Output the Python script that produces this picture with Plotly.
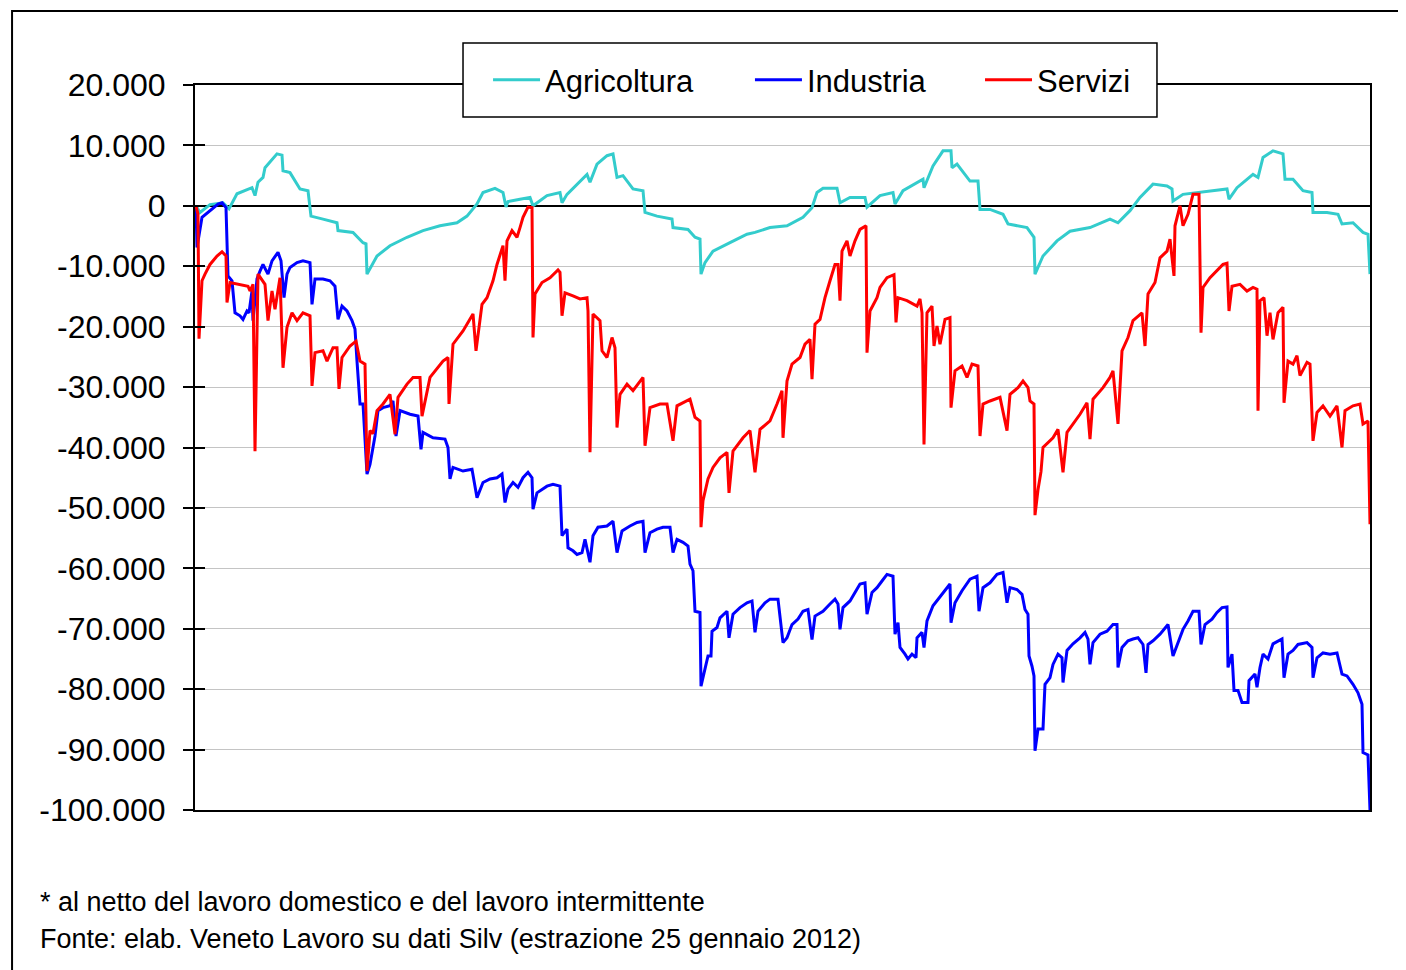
"""
Saldo cumulato delle posizioni di lavoro dipendente per settore (Veneto).
"""
import plotly.graph_objects as go

# giorni dall'inizio del periodo e saldo cumulato per settore
agr_giorni = [1, 5, 15, 28, 34, 42, 57, 60, 63, 68, 70, 82, 87, 88, 95, 105, 113, 116, 128, 142,
              143, 158, 168, 171, 172, 177, 182, 195, 212, 228, 245, 262, 272, 282, 288, 300, 308, 311, 313, 325,
              335, 338, 345, 352, 365, 367, 372, 382, 392, 395, 402, 412, 418, 422, 428, 438, 448, 450, 462, 477,
              478, 493, 500, 505, 506, 510, 518, 535, 552, 560, 575, 592, 608, 617, 622, 628, 642, 645, 655, 670,
              672, 685, 698, 700, 708, 728, 729, 738, 748, 756, 757, 762, 775, 783, 785, 795, 808, 813, 832, 839,
              840, 848, 862, 875, 895, 915, 923, 935, 945, 958, 972, 977, 978, 988, 1005, 1018, 1032, 1034, 1042, 1058,
              1063, 1068, 1078, 1088, 1090, 1098, 1108, 1117, 1118, 1132, 1143, 1147, 1158, 1168, 1173, 1175]
agricoltura = [0, -1100, 200, 500, -500, 2000, 3000, 1700, 3900, 4700, 6300, 8600, 8400, 5800, 5500, 2800, 2500, -1700, -2200, -2800,
               -4100, -4400, -6100, -6300, -11300, -9900, -8300, -6600, -5200, -4100, -3300, -2800, -1700, 300, 2200, 2900, 2200, -200, 700, 1100,
               1400, 0, 800, 1700, 2200, 500, 1900, 3600, 5200, 3900, 6900, 8300, 8600, 4700, 5000, 2800, 2500, -1100, -1700, -2200,
               -3600, -3900, -5200, -5500, -11300, -9400, -7500, -6100, -4700, -4400, -3600, -3300, -1900, -300, 2200, 2900, 2900, 500, 1400, 1400,
               -200, 1700, 2200, 300, 2500, 4400, 3000, 6600, 9100, 9100, 6300, 6900, 4100, 4100, -600, -600, -1400, -3000, -3600, -5200,
               -11300, -8300, -5800, -4200, -3600, -2200, -2800, -800, 1400, 3600, 3300, 2800, 800, 1900, 2200, 2500, 2800, 1100, 3000, 5200,
               4700, 8000, 9100, 8600, 4400, 4400, 2500, 2200, -1100, -1100, -1400, -3000, -2800, -4400, -4700, -11300]

ind_giorni = [1, 2, 7, 15, 23, 27, 31, 33, 37, 40, 45, 48, 52, 54, 57, 58, 62, 65, 68, 73,
              77, 83, 86, 89, 92, 95, 102, 108, 115, 117, 120, 128, 135, 140, 143, 147, 152, 157, 160, 162,
              165, 168, 172, 175, 180, 183, 188, 195, 198, 201, 205, 215, 223, 226, 228, 238, 250, 253, 255, 258,
              268, 277, 282, 288, 295, 302, 307, 310, 313, 318, 323, 328, 333, 337, 338, 342, 352, 358, 365, 367,
              372, 373, 378, 382, 387, 390, 395, 398, 403, 412, 418, 422, 427, 435, 442, 448, 450, 455, 462, 468,
              475, 478, 482, 488, 493, 495, 498, 500, 505, 506, 510, 513, 516, 517, 522, 525, 532, 534, 538, 545,
              552, 557, 560, 563, 570, 575, 583, 588, 592, 597, 603, 608, 613, 617, 620, 628, 635, 640, 643, 645,
              648, 655, 660, 665, 670, 672, 677, 682, 687, 692, 698, 700, 703, 705, 710, 713, 717, 721, 722, 727,
              729, 732, 738, 743, 748, 752, 755, 756, 760, 767, 772, 775, 782, 784, 788, 795, 802, 808, 812, 815,
              822, 827, 830, 833, 834, 837, 839, 840, 843, 848, 850, 855, 858, 863, 867, 868, 872, 878, 885, 890,
              893, 895, 898, 905, 912, 918, 922, 923, 927, 933, 938, 943, 948, 951, 953, 958, 965, 970, 973, 978,
              983, 988, 993, 998, 1004, 1006, 1010, 1017, 1022, 1027, 1032, 1033, 1037, 1039, 1043, 1047, 1053, 1054, 1060, 1062,
              1065, 1068, 1073, 1078, 1087, 1089, 1093, 1098, 1103, 1112, 1117, 1118, 1122, 1128, 1135, 1142, 1147, 1152, 1158, 1163,
              1167, 1168, 1173, 1175]
industria = [0, -6900, -1900, -800, 300, 500, -300, -11600, -12400, -17700, -18200, -18800, -17400, -17700, -14100, -19000, -12100, -10800, -9700, -11300,
             -9100, -7700, -9100, -15200, -11300, -10200, -9400, -9100, -9400, -16300, -12100, -12100, -12400, -13300, -18800, -16600, -17400, -19000, -20400, -25700,
             -32800, -32800, -44400, -42800, -38100, -33900, -33400, -33100, -32300, -38100, -33900, -34500, -34800, -40300, -37500, -38400, -38600, -40000, -45200, -43300,
             -43900, -43600, -48300, -45800, -45200, -45000, -44400, -49100, -46900, -45800, -46600, -45000, -44100, -45000, -50200, -47500, -46400, -46100, -46400, -54600,
             -53500, -56600, -57100, -57700, -57400, -55200, -59000, -54600, -53200, -53000, -52200, -57400, -53800, -53000, -52400, -52200, -57400, -54100, -53500, -53200,
             -53200, -57400, -55200, -55700, -56300, -59300, -60400, -67100, -67300, -79500, -76700, -74500, -74500, -70400, -69800, -68200, -67100, -71500, -67600, -66500,
             -65700, -65400, -70600, -67100, -65700, -65100, -65100, -72300, -71500, -69300, -68400, -67100, -66800, -71800, -67900, -67100, -65900, -65100, -65900, -70100,
             -66500, -65400, -64000, -62600, -62400, -67600, -64000, -63200, -62100, -61000, -61300, -70900, -69000, -73100, -74200, -75000, -74200, -74800, -71500, -70600,
             -73100, -68700, -66200, -65100, -64000, -63200, -62600, -69000, -65700, -63700, -62400, -61800, -61300, -67100, -63200, -62400, -61000, -60700, -65700, -63200,
             -63500, -64300, -66800, -67600, -74500, -76200, -77800, -90200, -86600, -86600, -79200, -78100, -75900, -74200, -74800, -78900, -73600, -72500, -71500, -70600,
             -71700, -75900, -72300, -70900, -70400, -69300, -69300, -76400, -73100, -72000, -71700, -71500, -72600, -77300, -72600, -72000, -70900, -69800, -69300, -74500,
             -72300, -70100, -68700, -67100, -67100, -72600, -69300, -68400, -67300, -66500, -66400, -76400, -74200, -80200, -80200, -82200, -82200, -78600, -77500, -79700,
             -76400, -74200, -75000, -72500, -71700, -78100, -74200, -73600, -72600, -72300, -73100, -78100, -74800, -74000, -74200, -74000, -77500, -77800, -79200, -80600,
             -82500, -90500, -90900, -100000]

ser_giorni = [1, 3, 4, 7, 10, 15, 22, 27, 31, 32, 35, 45, 53, 55, 58, 60, 63, 70, 73, 77,
              80, 85, 88, 92, 97, 102, 108, 115, 117, 120, 128, 132, 138, 142, 144, 147, 155, 161, 165, 170,
              172, 175, 178, 182, 188, 195, 200, 203, 212, 218, 225, 227, 235, 248, 253, 254, 258, 268, 278, 281,
              287, 292, 298, 302, 308, 310, 312, 317, 322, 325, 328, 333, 337, 338, 340, 347, 355, 363, 365, 367,
              370, 378, 385, 392, 393, 395, 398, 405, 407, 412, 417, 420, 422, 425, 432, 438, 448, 450, 455, 465,
              472, 478, 482, 495, 500, 505, 506, 508, 513, 518, 525, 532, 534, 538, 548, 555, 560, 565, 575, 582,
              587, 588, 592, 597, 605, 610, 615, 617, 620, 625, 630, 635, 640, 643, 645, 647, 652, 655, 660, 665,
              671, 672, 675, 682, 685, 692, 699, 701, 703, 712, 722, 725, 727, 729, 732, 737, 739, 742, 745, 750,
              755, 756, 760, 767, 772, 777, 783, 785, 788, 795, 805, 812, 815, 823, 828, 833, 835, 839, 840, 843,
              846, 848, 858, 863, 868, 872, 878, 885, 892, 895, 898, 908, 915, 918, 923, 927, 933, 938, 947, 950,
              953, 960, 965, 972, 975, 979, 980, 985, 988, 993, 998, 1004, 1006, 1008, 1015, 1022, 1028, 1032, 1034, 1037,
              1045, 1052, 1058, 1062, 1063, 1065, 1069, 1072, 1075, 1078, 1083, 1088, 1089, 1093, 1098, 1102, 1105, 1112, 1115, 1118,
              1122, 1128, 1135, 1142, 1147, 1150, 1158, 1165, 1168, 1173, 1175]
servizi = [0, -1400, -22000, -12400, -11300, -9700, -8300, -7600, -8300, -16000, -12700, -13000, -13300, -14100, -13000, -40600, -11300, -13000, -19000, -14100,
           -17100, -11900, -26800, -20100, -17700, -19000, -17700, -18200, -29800, -24300, -24000, -25700, -23500, -23500, -30300, -25100, -23200, -22400, -25700, -26200,
           -43900, -37200, -37700, -33900, -32800, -31200, -37800, -31700, -29500, -28400, -28400, -34800, -28400, -25700, -25100, -32800, -22900, -20700, -17900, -24000,
           -16300, -15200, -12400, -9700, -6600, -12400, -5800, -4100, -5200, -3600, -1900, -200, -300, -21800, -14600, -12700, -11900, -10600, -11000, -18200,
           -14400, -14900, -15400, -15200, -17400, -40800, -17900, -19000, -24000, -25100, -21800, -23500, -36700, -31200, -29500, -30600, -28400, -39700, -33400, -32800,
           -32800, -38900, -33100, -32000, -35000, -35600, -53200, -48800, -45200, -43300, -41700, -40800, -47500, -40600, -38400, -37200, -44100, -37000, -35600, -32800,
           -30600, -38400, -29000, -26200, -25100, -22900, -22100, -28700, -19600, -18800, -15200, -12400, -9700, -9700, -15700, -7500, -5800, -8300, -5800, -3900,
           -3300, -24300, -17400, -15200, -13500, -11900, -11400, -19300, -15200, -15700, -16600, -15400, -17700, -39500, -17700, -16600, -23200, -19900, -22900, -18800,
           -18500, -33400, -27300, -26500, -28400, -26200, -26500, -38100, -32800, -32300, -31700, -37200, -31200, -30100, -29000, -30100, -32300, -32800, -51200, -47000,
           -44000, -40000, -38400, -37000, -44100, -37500, -36100, -34500, -32600, -38600, -32000, -30100, -28400, -27300, -36100, -24000, -21800, -19000, -17700, -23200,
           -14600, -12700, -8600, -7500, -5500, -11600, -3300, 0, -3300, -1400, 1900, 1900, -21000, -13500, -11900, -10800, -9700, -9500, -17400, -13300,
           -13000, -14100, -13500, -13800, -33900, -15700, -15200, -21500, -17700, -22100, -17700, -16800, -32600, -25700, -26200, -24800, -28100, -25900, -26200, -38900,
           -34200, -33100, -34800, -33100, -40000, -33900, -33100, -32800, -36100, -35600, -52700]

y_ticks = list(range(-100000, 20001, 10000))
y_labels = [f"{v:,}".replace(",", ".") for v in y_ticks]

assert len(agr_giorni) == len(agricoltura), (len(agr_giorni), len(agricoltura))
assert len(ind_giorni) == len(industria), (len(ind_giorni), len(industria))
assert len(ser_giorni) == len(servizi), (len(ser_giorni), len(servizi))

FONT = "Liberation Sans, Arial, sans-serif"

serie = [
    ("Agricoltura", agr_giorni, agricoltura, "#33CCCC", "legend", 0.2494),
    ("Industria", ind_giorni, industria, "#0000FF", "legend2", 0.4723),
    ("Servizi", ser_giorni, servizi, "#FF0000", "legend3", 0.6681),
]

fig = go.Figure()
legende = {}
for nome, giorni, valori, colore, leg, x_leg in serie:
    fig.add_trace(go.Scatter(x=giorni, y=valori, name=nome, mode="lines", legend=leg,
                             line=dict(color=colore, width=3)))
    legende[leg] = dict(orientation="h", x=x_leg, y=1.0069, xanchor="left", yanchor="middle",
                        bgcolor="rgba(0,0,0,0)", borderwidth=0, itemwidth=47,
                        font=dict(size=31, family=FONT, color="black"))

# traccia invisibile per mostrare le tacche interne sull'asse
fig.add_trace(go.Scatter(x=[0], y=[0], yaxis="y2", mode="lines", showlegend=False,
                         hoverinfo="skip", line=dict(width=0)))

fig.update_layout(
    width=1398, height=962, autosize=False,
    margin=dict(l=187, r=36, t=77, b=160, pad=0),
    paper_bgcolor="white", plot_bgcolor="white",
    font=dict(family=FONT, color="black"),
    showlegend=True,
    xaxis=dict(range=[0, 1175], showticklabels=False, ticks="", showgrid=False,
               zeroline=False, showline=True, mirror=True, linecolor="black", linewidth=2),
    yaxis=dict(range=[-100000, 20000], tickvals=y_ticks, ticktext=y_labels,
               tickfont=dict(size=32, family=FONT, color="black"),
               ticks="outside", ticklen=10, tickcolor="black", tickwidth=1.5,
               ticklabelstandoff=11,
               showgrid=True, gridcolor="#c4c4c4", gridwidth=1,
               zeroline=True, zerolinecolor="black", zerolinewidth=1.5,
               showline=True, mirror=True, linecolor="black", linewidth=2),
    yaxis2=dict(overlaying="y", range=[-100000, 20000], tickvals=y_ticks, side="left",
                showticklabels=False, ticks="inside", ticklen=10, tickcolor="black", tickwidth=1.5,
                showgrid=False, zeroline=False, showline=False),
    **legende,
)

# riquadro della legenda
fig.add_shape(type="rect", xref="paper", yref="paper",
              x0=0.2281, x1=0.8187, y0=0.9559, y1=1.0579,
              line=dict(color="black", width=1.5), fillcolor="white", layer="above")

# cornice esterna
fig.add_shape(type="rect", xref="paper", yref="paper",
              x0=-0.1557, x1=1.06, y0=-0.26, y1=1.1020,
              line=dict(color="black", width=2), fillcolor="rgba(0,0,0,0)", layer="below")

note = [
    "* al netto del lavoro domestico e del lavoro intermittente",
    "Fonte: elab. Veneto Lavoro su dati Silv (estrazione 25 gennaio 2012)",
]
for i, testo in enumerate(note):
    fig.add_annotation(text=testo, xref="paper", yref="paper", x=-0.1336, y=-0.1269 - i * 0.051,
                       xanchor="left", yanchor="middle", showarrow=False,
                       font=dict(size=27, family=FONT, color="black"))

fig.write_html("out.html")
